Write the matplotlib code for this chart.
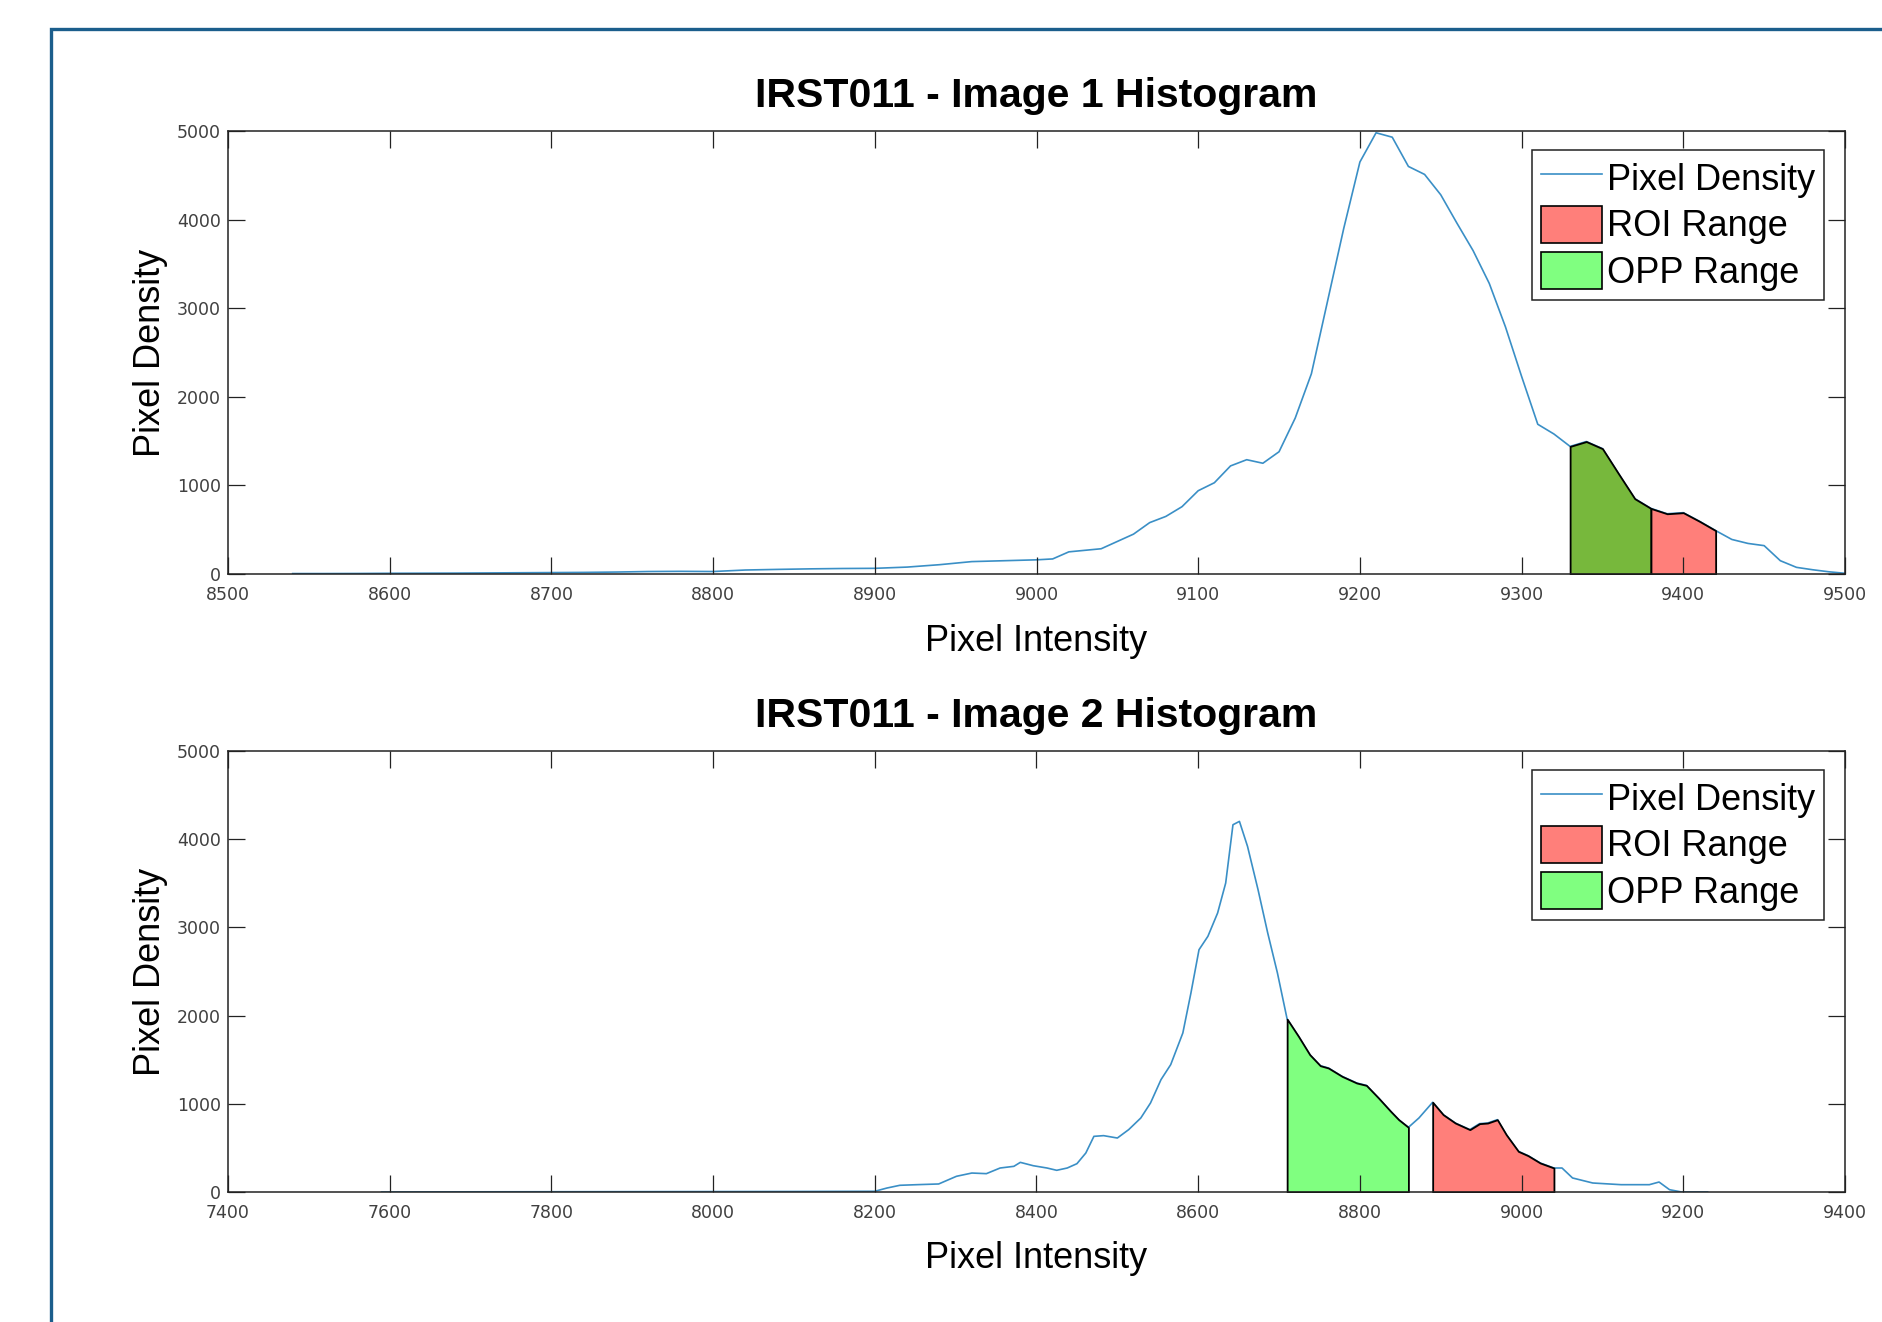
import numpy as np
import matplotlib
matplotlib.use('Agg')
import matplotlib.pyplot as plt
from matplotlib.lines import Line2D
from matplotlib.patches import Patch, Rectangle

# image 1 histogram
x1 = [8540, 8560, 8580, 8600, 8620, 8640, 8660, 8680, 8700, 8720, 8740, 8760,
      8780, 8800, 8820, 8840, 8860, 8880, 8900, 8920, 8940, 8960, 8980, 9000,
      9010, 9020, 9040, 9060, 9070, 9080, 9090, 9100, 9110, 9120, 9130, 9140,
      9150, 9160, 9170, 9180, 9190, 9200, 9210, 9220, 9230, 9240, 9250, 9260,
      9270, 9280, 9290, 9300, 9310, 9320, 9330, 9340, 9350, 9360, 9370, 9380,
      9390, 9400, 9410, 9420, 9430, 9440, 9450, 9460, 9470, 9480, 9490, 9500]
y1 = [5, 5, 6, 8, 9, 10, 12, 14, 16, 18, 22, 28,
      30, 28, 45, 52, 58, 62, 64, 78, 105, 140, 150, 160,
      170, 250, 285, 450, 580, 650, 760, 940, 1030, 1220, 1290, 1250,
      1380, 1760, 2260, 3080, 3900, 4650, 4980, 4930, 4600, 4510, 4280, 3960,
      3650, 3280, 2790, 2230, 1690, 1580, 1440, 1495, 1415, 1130, 850, 740,
      680, 692, 595, 490, 390, 345, 320, 150, 75, 48, 25, 8]
opp1 = (9330, 9380)
roi1 = (9380, 9420)

# image 2 histogram
x2 = [7590, 7700, 7800, 7900, 8000, 8100, 8200, 8215, 8231, 8252, 8279, 8301,
      8320, 8338, 8355, 8372, 8380, 8396, 8413, 8425, 8438, 8450, 8461, 8471,
      8483, 8500, 8514, 8529, 8541, 8554, 8566, 8581, 8591, 8601, 8612, 8624,
      8634, 8643, 8651, 8661, 8674, 8686, 8698, 8710, 8724, 8738, 8751, 8761,
      8778, 8796, 8808, 8823, 8838, 8848, 8860, 8873, 8890, 8903, 8918, 8936,
      8948, 8958, 8970, 8981, 8996, 9008, 9023, 9040, 9050, 9063, 9088, 9123,
      9158, 9170, 9183, 9198, 9230]
y2 = [0, 2, 3, 4, 5, 6, 8, 45, 76, 83, 91, 178,
      215, 208, 272, 291, 336, 298, 272, 246, 272, 321, 442, 631,
      639, 612, 707, 839, 1009, 1274, 1444, 1803, 2256, 2747, 2899, 3163,
      3503, 4164, 4202, 3919, 3428, 2936, 2483, 1960, 1765, 1557, 1432, 1406,
      1311, 1236, 1209, 1066, 915, 820, 733, 839, 1017, 877, 782, 707,
      775, 782, 820, 650, 461, 412, 329, 272, 272, 159, 102, 83,
      83, 113, 26, 0, 0]
opp2 = (8710, 8860)
roi2 = (8890, 9040)

titles = ['IRST011 - Image 1 Histogram', 'IRST011 - Image 2 Histogram']
xlims = [(8500, 9500), (7400, 9400)]
xsteps = [100, 200]

line_c = '#3a8fc6'
red_c = '#ff7f7a'
green_c = '#80ff80'
opp_cols = ['#77b83c', green_c]

W, H = 1883, 1322
fig = plt.figure(figsize=(W / 100, H / 100), dpi=100)
plt.rcParams['font.family'] = ['Liberation Sans', 'DejaVu Sans']

# blue frame round the figure
fig.add_artist(Rectangle((51 / W, -0.1), 1.2, 1 - 29 / H + 0.1, fill=False,
                         edgecolor='#1b5e8c', lw=2.4, transform=fig.transFigure))

boxes = [[228 / W, 1 - 574 / H, (1845 - 228) / W, (574 - 131) / H],
         [228 / W, 1 - 1192 / H, (1845 - 228) / W, (1192 - 751) / H]]

data = [(x1, y1, opp1, roi1), (x2, y2, opp2, roi2)]
for i, (xs, ys, opp, roi) in enumerate(data):
    ax = fig.add_axes(boxes[i])
    xs = np.array(xs)
    ys = np.array(ys)
    ax.plot(xs, ys, color=line_c, lw=1.2, zorder=2)
    m = (xs >= opp[0]) & (xs <= opp[1])
    ax.fill_between(xs[m], ys[m], color=opp_cols[i], edgecolor='black', lw=1.3, zorder=2.2)
    m = (xs >= roi[0]) & (xs <= roi[1])
    ax.fill_between(xs[m], ys[m], color=red_c, edgecolor='black', lw=1.3, zorder=2.2)

    ax.set_xlim(*xlims[i])
    ax.set_ylim(0, 5000)
    ax.set_xticks(np.arange(xlims[i][0], xlims[i][1] + 1, xsteps[i]))
    ax.set_yticks(np.arange(0, 5001, 1000))
    ax.set_axisbelow(False)
    ax.tick_params(direction='in', top=True, right=True, length=12, width=0.9,
                   color='#222222', labelsize=12.5, labelcolor='#404040')
    ax.tick_params(axis='x', pad=9)
    ax.tick_params(axis='y', pad=5)
    for lab in ax.get_xticklabels() + ax.get_yticklabels():
        lab.set_family('DejaVu Sans')
    for sp in ax.spines.values():
        sp.set_linewidth(1.1)
        sp.set_color('#222222')

    ax.set_title(titles[i], fontsize=29.5, fontweight='bold', pad=17)
    ax.set_xlabel('Pixel Intensity', fontsize=26)
    ax.set_ylabel('Pixel Density', fontsize=26)
    ax.xaxis.set_label_coords(0.5, -0.112)
    ax.yaxis.set_label_coords(-0.037, 0.5)

    handles = [Line2D([], [], color=line_c, lw=1.2),
               Patch(facecolor=red_c, edgecolor='black', lw=1.2),
               Patch(facecolor=green_c, edgecolor='black', lw=1.2)]
    leg = ax.legend(handles, ['Pixel Density', 'ROI Range', 'OPP Range'],
                    loc='upper right', bbox_to_anchor=(1 - 21 / 1617, 1 - 19 / 441),
                    borderaxespad=0, fontsize=26, fancybox=False, framealpha=1,
                    edgecolor='#222222', handlelength=1.7, handleheight=1.2,
                    handletextpad=0.12, labelspacing=0.22, borderpad=0.25)
    leg.get_frame().set_linewidth(1.1)

fig.savefig('out.png', dpi=100)
